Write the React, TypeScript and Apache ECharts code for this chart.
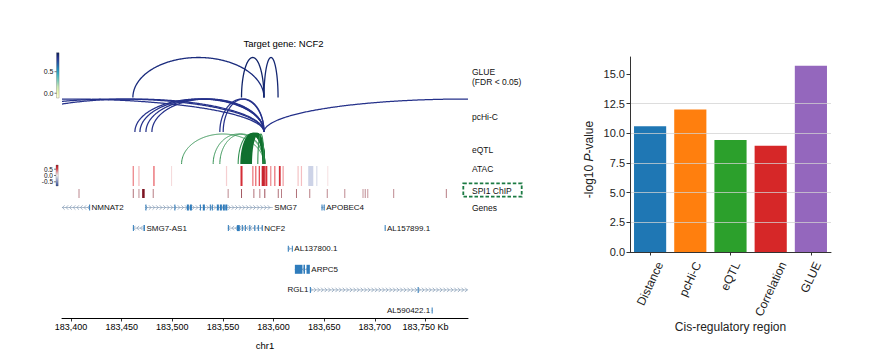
import React, { useEffect, useRef } from "react";
import * as echarts from "echarts";

// ---------------- data: genome tracks (positions in Kb, chr1) ----------------
const regionStart = 183391;
const regionEnd = 183792;
const genomeTicks = [183400, 183450, 183500, 183550, 183600, 183650, 183700, 183750];
const targetGene = "NCF2";

const glueStarts = [183461.0, 183568.3, 183590.5];
const glueEnds = [183590.5, 183590.5, 183604.4];
const glueScores = [0.86, 0.9, 0.88];

const pchicStarts = [183199.6, 183300.2, 183329.8, 183463.0, 183468.0, 183473.9, 183479.8, 183546.9, 183550.2, 183590.5];
const pchicEnds = [183590.5, 183590.5, 183590.5, 183590.5, 183590.5, 183590.5, 183590.5, 183590.5, 183590.5, 183993.0];

const eqtlStarts = [183509.1, 183540.3, 183546.9, 183565.0, 183568.3, 183569.8, 183571.3, 183572.8, 183574.3, 183575.8, 183577.5, 183584.4];
const eqtlEnds = [183590.5, 183590.5, 183590.5, 183590.5, 183590.5, 183590.5, 183590.5, 183590.5, 183590.5, 183590.5, 183590.5, 183590.5];
const eqtlWeights = [0.3, 0.3, 0.3, 0.4, 1, 1, 1, 1, 1, 1, 1, 0.4];

const atacPos = [183461.4, 183467.0, 183481.8, 183499.2, 183553.5, 183568.3, 183579.5, 183582.4, 183585.9, 183589.8, 183592.8, 183597.2, 183601.2, 183606.1, 183609.4, 183624.2, 183627.5, 183636.7, 183642.6, 183653.5];
const atacScore = [0.35, 0.22, 0.38, 0.1, 0.14, 0.62, 0.4, 0.45, 0.5, 0.68, 0.6, 0.35, 0.42, 0.62, 0.3, 0.18, 0.2, -0.18, -0.1, 0.07];
const atacLen = [1.3, 1.2, 1.5, 1.0, 1.2, 2.0, 1.2, 1.2, 1.3, 3.2, 2.0, 1.2, 1.2, 1.8, 1.2, 1.2, 1.2, 5.0, 1.5, 1.0];

const chipPos = [183407.8, 183461.4, 183467.0, 183471.4, 183481.1, 183555.1, 183568.3, 183580.5, 183586.4, 183591.3, 183604.6, 183607.8, 183622.6, 183635.7, 183653.0, 183670.3, 183688.3, 183690.5, 183693.0, 183718.6, 183770.6];
const chipSignal = [0.5, 0.6, 0.5, 1.0, 0.55, 0.5, 0.7, 0.6, 0.55, 0.75, 0.6, 0.55, 0.6, 0.55, 0.5, 0.5, 0.45, 0.5, 0.45, 0.5, 0.55];
const chipLen = [1, 1, 1, 2.5, 1, 1, 1, 1, 1, 1, 1, 1, 1, 1, 1, 1, 1, 1, 1, 1, 1];

const geneNames = ["NMNAT2", "SMG7", "APOBEC4", "SMG7-AS1", "NCF2", "AL157899.1", "AL137800.1", "ARPC5", "RGL1", "AL590422.1"];
const geneStarts = [183300.0, 183472.9, 183647.3, 183461.0, 183554.8, 183709.7, 183614.0, 183621.0, 183635.8, 183756.1];
const geneEnds = [183418.6, 183599.2, 183650.5, 183472.9, 183589.3, 183710.5, 183619.0, 183635.8, 183900.0, 183757.0];
const geneStrands = [-1, 1, -1, -1, -1, 1, 1, -1, 1, -1];
const geneRows = [0, 0, 0, 1, 1, 1, 2, 3, 4, 5];
const geneExons: number[][][] = [
  [[183417.8, 183418.6]],
  [[183473.4, 183474.4], [183502, 183503], [183514.3, 183516.3], [183517.3, 183519.3], [183527.2, 183528.2], [183530.1, 183532.1], [183537, 183538], [183539, 183540], [183543.9, 183545.9], [183546.9, 183548.9], [183549.9, 183551.8], [183552.3, 183554.3]],
  [[183647.3, 183648.3], [183649.5, 183650.5]],
  [[183461, 183461.8], [183471.5, 183472.9]],
  [[183554.8, 183555.8], [183563.7, 183566.6], [183568.6, 183569.6], [183571.6, 183572.6], [183576, 183577], [183580.9, 183581.9], [183584.4, 183585.4], [183588.3, 183589.3]],
  [[183709.7, 183710.5]],
  [[183614, 183615], [183618, 183619]],
  [[183621, 183628.5], [183629.5, 183631], [183632.5, 183635.8]],
  [[183635.8, 183636.8], [183742.3, 183743]],
  [[183756.1, 183757]],
];

const glueCbarTicks = [0, 0.5];
const glueCbarRange = [-0.11, 0.94];
const atacCbarTicks = [0.5, 0, -0.5];
const atacCbarRange = [-0.83, 0.83];

// ---------------- data: bar chart ----------------
const cisRegions = ["Distance", "pcHi-C", "eQTL", "Correlation", "GLUE"];
const negLog10P = [10.6, 12.0, 9.43, 8.96, 15.7];
const pTicks = [0, 2.5, 5, 7.5, 10, 12.5, 15];

// ---------------- styles / layout ----------------
const FONT = '"Liberation Sans", Arial, Helvetica, sans-serif';
const BAR_COLORS = ["#1f77b4", "#ff7f0e", "#2ca02c", "#d62728", "#9467bd"];
const LG = { left: 62, top: 40, width: 406, height: 278 };
const BG = { left: 630, top: 57, width: 201, height: 195, max: 16.43 };
const TRACK = {
  glue: { base: 97.5, h: 40 },
  pchic: { base: 132, h: 33 },
  eqtl: { base: 164, h: 30 },
  atac: { top: 166, bottom: 186 },
  chip: { top: 189, bottom: 198 },
  genes: { row0: 207.5, step: 20.6 },
};
const GENE_LINE = "#7d95b0";
const EXON = "#2f7cbc";
const EXON_H: Record<string, number> = { ARPC5: 9 };
const yv = (px: number) => px - LG.top;

const YLGNBU = ["#ffffd9", "#edf8b1", "#c7e9b4", "#7fcdbb", "#41b6c4", "#1d91c0", "#225ea8", "#253494", "#081d58"];
const ATAC_STOPS: [number, string][] = [
  [-0.83, "#2c4b9a"], [-0.4, "#9aa6d4"], [0, "#f7f7f7"], [0.25, "#f3b0b3"], [0.55, "#e2363e"], [0.83, "#a8121e"],
];

function hex(c: string) {
  return [parseInt(c.slice(1, 3), 16), parseInt(c.slice(3, 5), 16), parseInt(c.slice(5, 7), 16)];
}
function mix(a: string, b: string, t: number) {
  const A = hex(a), B = hex(b);
  const r = A.map((v, i) => Math.round(v + (B[i] - v) * t));
  return "rgb(" + r.join(",") + ")";
}
function stopsColor(stops: [number, string][], v: number) {
  if (v <= stops[0][0]) return stops[0][1];
  for (let i = 1; i < stops.length; i++) {
    if (v <= stops[i][0]) {
      const t = (v - stops[i - 1][0]) / (stops[i][0] - stops[i - 1][0]);
      return mix(stops[i - 1][1], stops[i][1], t);
    }
  }
  return stops[stops.length - 1][1];
}
function glueColor(v: number) {
  const [mn, mx] = glueCbarRange;
  const stops: [number, string][] = YLGNBU.map((c, i) => [mn + (i / (YLGNBU.length - 1)) * (mx - mn), c]);
  return stopsColor(stops, v);
}

let measureCtx: CanvasRenderingContext2D | null = null;
function textWidth(t: string, size: number) {
  if (!measureCtx) measureCtx = document.createElement("canvas").getContext("2d");
  if (!measureCtx) return t.length * size * 0.55;
  measureCtx.font = size + 'px "Liberation Sans"';
  return measureCtx.measureText(t).width;
}

// half-ellipse points between two pixel x positions, clipped to [xmin, xmax]
function arcPoints(x0: number, x1: number, y0: number, h: number, xmin: number, xmax: number) {
  const cx = (x0 + x1) / 2;
  const a = Math.max(0.01, (x1 - x0) / 2);
  const yAt = (x: number) => y0 - h * Math.sqrt(Math.max(0, 1 - ((x - cx) / a) * ((x - cx) / a)));
  const pts: number[][] = [];
  const left = Math.max(x0, xmin);
  const right = Math.min(x1, xmax);
  if (right <= left) return pts;
  // angle sampling for the legs, x sampling for clipped parts
  const N = 200;
  for (let i = 0; i <= N; i++) {
    const x = left + ((right - left) * i) / N;
    pts.push([x, yAt(x)]);
  }
  // refine the steep legs near unclipped ends
  if (x0 >= xmin) {
    const leg: number[][] = [];
    for (let j = 0; j < 12; j++) {
      const t = Math.PI - (j / 12) * 0.6;
      const x = cx + a * Math.cos(t);
      if (x < pts[1][0]) leg.push([x, y0 - h * Math.sin(t)]);
    }
    pts.splice(0, 1, ...leg);
  }
  if (x1 <= xmax) {
    const leg: number[][] = [];
    for (let j = 11; j >= 0; j--) {
      const t = (j / 12) * 0.6;
      const x = cx + a * Math.cos(t);
      if (x > pts[pts.length - 2][0]) leg.push([x, y0 - h * Math.sin(t)]);
    }
    pts.splice(pts.length - 1, 1, ...leg);
  }
  return pts;
}

function makeTrackRender(starts: number[], ends: number[], base: number, h: number, styleFor: (i: number) => { stroke: string; lineWidth: number }) {
  return (params: any, api: any) => {
    const c0 = api.coord([regionStart, yv(base)]);
    const c1 = api.coord([regionEnd, yv(base)]);
    const k = (c1[0] - c0[0]) / (regionEnd - regionStart);
    const y0 = c0[1];
    const xmin = c0[0], xmax = c1[0];
    const children: any[] = [];
    starts.forEach((s, idx) => {
      const e = ends[idx];
      const x0 = c0[0] + (Math.min(s, e) - regionStart) * k;
      const x1 = c0[0] + (Math.max(s, e) - regionStart) * k;
      const pts = arcPoints(x0, x1, y0, h, xmin, xmax);
      if (pts.length < 2) return;
      const st = styleFor(idx);
      children.push({
        type: "polyline",
        z2: 10,
        shape: { points: pts },
        style: { stroke: st.stroke, lineWidth: st.lineWidth, fill: null },
      });
    });
    return { type: "group", children };
  };
}

function buildOption(): any {
  const lastTick = genomeTicks[genomeTicks.length - 1];
  const glueTop = 52.7, glueH = 45.3, glueX = 56.5, glueW = 2.6;
  const atacTop = 165, atacH = 21, atacX = 56, atacW = 2.2;
  const cbY = (v: number, range: number[], top: number, hgt: number) =>
    top + ((range[1] - v) / (range[1] - range[0])) * hgt;

  const graphics: any[] = [];
  graphics.push({
    type: "text", x: 283.5, y: 43,
    style: { text: "Target gene: " + targetGene, fontSize: 9.5, fontFamily: FONT, fill: "#000", align: "center", verticalAlign: "middle" },
  });
  const trackLabels: [string, number][] = [
    ["GLUE", 71.5], ["(FDR < 0.05)", 81.5], ["pcHi-C", 116.5], ["eQTL", 149.5], ["ATAC", 169], ["SPI1 ChIP", 190.5], ["Genes", 207.5],
  ];
  trackLabels.forEach(([t, y]) =>
    graphics.push({
      type: "text", x: 472, y,
      style: { text: t, fontSize: 8.5, fontFamily: FONT, fill: "#111", align: "left", verticalAlign: "middle" },
    })
  );
  graphics.push({
    type: "rect", shape: { x: 463.3, y: 183.3, width: 58.4, height: 13.4 },
    style: { fill: null, stroke: "#1b7a43", lineWidth: 1.8, lineDash: [3.5, 2] },
  });
  graphics.push({
    type: "rect", shape: { x: glueX, y: glueTop, width: glueW, height: glueH },
    style: {
      fill: new echarts.graphic.LinearGradient(0, 0, 0, 1, YLGNBU.slice().reverse().map((c, i) => ({ offset: i / (YLGNBU.length - 1), color: c }))),
      stroke: "#555", lineWidth: 0.3,
    },
  });
  glueCbarTicks.forEach((v) => {
    const y = cbY(v, glueCbarRange, glueTop, glueH);
    graphics.push({ type: "line", shape: { x1: glueX - 2, y1: y, x2: glueX, y2: y }, style: { stroke: "#222", lineWidth: 0.6 } });
    graphics.push({ type: "text", x: glueX - 3, y, style: { text: v.toFixed(1), fontSize: 7, fontFamily: FONT, fill: "#111", align: "right", verticalAlign: "middle" } });
  });
  const atacGrad = ATAC_STOPS.slice().reverse().map(([v, c]) => ({ offset: (atacCbarRange[1] - v) / (atacCbarRange[1] - atacCbarRange[0]), color: c }));
  graphics.push({
    type: "rect", shape: { x: atacX, y: atacTop, width: atacW, height: atacH },
    style: { fill: new echarts.graphic.LinearGradient(0, 0, 0, 1, atacGrad), stroke: "#555", lineWidth: 0.3 },
  });
  atacCbarTicks.forEach((v) => {
    const y = cbY(v, atacCbarRange, atacTop, atacH);
    graphics.push({ type: "line", shape: { x1: atacX - 2, y1: y, x2: atacX, y2: y }, style: { stroke: "#222", lineWidth: 0.6 } });
    graphics.push({ type: "text", x: atacX - 3, y, style: { text: v.toFixed(1), fontSize: 6.5, fontFamily: FONT, fill: "#111", align: "right", verticalAlign: "middle" } });
  });

  const trackSeries = (name: string, starts: number[], ends: number[], base: number, h: number, styleFor: (i: number) => { stroke: string; lineWidth: number }) => ({
    type: "custom", name, xAxisIndex: 0, yAxisIndex: 0, silent: true, clip: false, z: 6,
    data: [[regionStart, 0]],
    renderItem: makeTrackRender(starts, ends, base, h, styleFor),
  });

  return {
    animation: false,
    backgroundColor: "#fff",
    textStyle: { fontFamily: FONT },
    grid: [
      { left: LG.left, top: LG.top, width: LG.width, height: LG.height, containLabel: false },
      { left: BG.left, top: BG.top, width: BG.width, height: BG.height, containLabel: false },
    ],
    xAxis: [
      {
        gridIndex: 0, type: "value", min: regionStart, max: regionEnd,
        axisLine: { show: true, onZero: false, lineStyle: { color: "#000", width: 1 } },
        axisTick: { show: true, customValues: genomeTicks, length: 3.5, lineStyle: { color: "#000", width: 0.8 } },
        axisLabel: {
          customValues: genomeTicks, fontSize: 9, color: "#000", margin: 4, fontFamily: FONT,
          formatter: (v: number) => Number(v).toLocaleString("en-US") + (v === lastTick ? " Kb" : ""),
        },
        splitLine: { show: false },
        name: "chr1", nameLocation: "middle", nameGap: 22,
        nameTextStyle: { fontSize: 9.5, color: "#000", fontFamily: FONT },
      },
      {
        gridIndex: 1, type: "category", data: cisRegions,
        axisLine: { show: true, lineStyle: { color: "#333", width: 1 } },
        axisTick: { show: true, alignWithLabel: true, length: 3.5, lineStyle: { color: "#333" } },
        axisLabel: { show: false },
        splitLine: { show: false },
        name: "Cis-regulatory region", nameLocation: "middle", nameGap: 69,
        nameTextStyle: { fontSize: 12, color: "#222", fontFamily: FONT },
      },
    ],
    yAxis: [
      { gridIndex: 0, type: "value", min: 0, max: LG.height, inverse: true, show: false },
      {
        gridIndex: 1, type: "value", min: 0, max: BG.max, interval: 2.5, z: 3,
        axisLine: { show: true, lineStyle: { color: "#333", width: 1 } },
        axisTick: { show: true, customValues: pTicks, length: 3.5, lineStyle: { color: "#333" } },
        axisLabel: {
          customValues: pTicks, fontSize: 11, color: "#222", margin: 5, fontFamily: FONT,
          formatter: (v: number) => Number(v).toFixed(1),
        },
        splitLine: { show: true, showMaxLine: false, showMinLine: false, lineStyle: { color: "rgba(210,210,210,0.75)", width: 1 } },
        name: "-log10 {i|P}-value", nameLocation: "middle", nameGap: 35,
        nameTextStyle: {
          fontSize: 12, color: "#222", fontFamily: FONT, padding: [0, 10, 0, 0],
          rich: { i: { fontStyle: "italic", fontSize: 12, color: "#222", fontFamily: FONT } },
        },
      },
    ],
    series: [
      trackSeries("GLUE", glueStarts, glueEnds, TRACK.glue.base, TRACK.glue.h, (i) => ({ stroke: glueColor(glueScores[i]), lineWidth: 1.3 })),
      trackSeries("pcHi-C", pchicStarts, pchicEnds, TRACK.pchic.base, TRACK.pchic.h, () => ({ stroke: "#25318a", lineWidth: 1.25 })),
      trackSeries("eQTL", eqtlStarts, eqtlEnds, TRACK.eqtl.base, TRACK.eqtl.h, (i) => ({
        stroke: eqtlWeights[i] >= 1 ? "#11702f" : "#2f8f4e",
        lineWidth: eqtlWeights[i] >= 1 ? 2.4 : 0.6 + eqtlWeights[i] * 1.2,
      })),
      {
        type: "custom", name: "ATAC", xAxisIndex: 0, yAxisIndex: 0, silent: true,
        data: atacPos.map((p, i) => [p, atacScore[i], atacLen[i]]),
        renderItem: (params: any, api: any) => {
          const pos = api.value(0), sc = api.value(1), len = api.value(2);
          const a = api.coord([pos - len / 2, yv(TRACK.atac.top)]);
          const b = api.coord([pos + len / 2, yv(TRACK.atac.bottom)]);
          const w = Math.max(1.1, b[0] - a[0]);
          return {
            type: "rect",
            shape: { x: (a[0] + b[0]) / 2 - w / 2, y: a[1], width: w, height: b[1] - a[1] },
            style: { fill: stopsColor(ATAC_STOPS, sc) },
          };
        },
      },
      {
        type: "custom", name: "SPI1 ChIP", xAxisIndex: 0, yAxisIndex: 0, silent: true,
        data: chipPos.map((p, i) => [p, chipSignal[i], chipLen[i]]),
        renderItem: (params: any, api: any) => {
          const pos = api.value(0), sg = api.value(1), len = api.value(2);
          const a = api.coord([pos - len / 2, yv(TRACK.chip.top)]);
          const b = api.coord([pos + len / 2, yv(TRACK.chip.bottom)]);
          const w = Math.max(0.9, b[0] - a[0]);
          return {
            type: "rect",
            shape: { x: (a[0] + b[0]) / 2 - w / 2, y: a[1], width: w, height: b[1] - a[1] },
            style: { fill: mix("#ffffff", "#7d1422", sg) },
          };
        },
      },
      {
        type: "custom", name: "Genes", xAxisIndex: 0, yAxisIndex: 0, silent: true,
        data: geneNames.map((_, i) => [geneStarts[i], geneEnds[i]]),
        renderItem: (params: any, api: any) => {
          const i = params.dataIndex;
          const cs = params.coordSys;
          const xmin = cs.x, xmax = cs.x + cs.width;
          const y = api.coord([regionStart, yv(TRACK.genes.row0 + geneRows[i] * TRACK.genes.step)])[1];
          const sx = api.coord([api.value(0), 0])[0];
          const ex = api.coord([api.value(1), 0])[0];
          const vs = Math.max(sx, xmin), ve = Math.min(ex, xmax);
          const children: any[] = [];
          children.push({ type: "line", shape: { x1: vs, y1: y, x2: ve, y2: y }, style: { stroke: GENE_LINE, lineWidth: 0.6 } });
          const dir = geneStrands[i];
          for (let x = vs + 1.5; x <= ve - 1; x += 3.6) {
            children.push({
              type: "polyline",
              shape: { points: [[x - dir * 1.1, y - 2.2], [x + dir * 1.1, y], [x - dir * 1.1, y + 2.2]] },
              style: { stroke: GENE_LINE, lineWidth: 0.7, fill: null },
            });
          }
          const eh = EXON_H[geneNames[i]] || 6;
          geneExons[i].forEach(([a, b]) => {
            const xa = Math.max(api.coord([a, 0])[0], xmin);
            const xb = Math.min(api.coord([b, 0])[0], xmax);
            if (xb <= xmin || xa >= xmax) return;
            children.push({ type: "rect", shape: { x: xa, y: y - eh / 2, width: Math.max(1, xb - xa), height: eh }, style: { fill: EXON } });
          });
          const name = geneNames[i];
          const tw = textWidth(name, 8);
          const right = ex + 1.5 + tw <= xmax;
          children.push({
            type: "text", x: right ? ex + 1.5 : sx - 1.5, y,
            style: { text: name, fontSize: 8, fontFamily: FONT, fill: "#111", align: right ? "left" : "right", verticalAlign: "middle" },
          });
          return { type: "group", children };
        },
      },
      {
        type: "bar", name: "-log10 P", xAxisIndex: 1, yAxisIndex: 1, barWidth: "80%", silent: true,
        data: negLog10P.map((v, i) => ({ value: v, itemStyle: { color: BAR_COLORS[i] } })),
      },
      {
        type: "custom", name: "regionLabels", xAxisIndex: 1, yAxisIndex: 1, silent: true, clip: false, z: 5,
        data: cisRegions.map((_, i) => [i, 0]),
        renderItem: (params: any, api: any) => {
          const i = params.dataIndex;
          const p = api.coord([api.value(0), 0]);
          const text = cisRegions[i];
          const fs = 12;
          const L = textWidth(text, fs);
          const h = fs;
          const th = (65 * Math.PI) / 180;
          const c = Math.cos(th), s = Math.sin(th);
          const corners = [[-L, -h / 2], [0, -h / 2], [0, h / 2], [-L, h / 2]].map(([dx, dy]) => [dx * c + dy * s, -dx * s + dy * c]);
          const xs = corners.map((q) => q[0]);
          const ys = corners.map((q) => q[1]);
          const ax = p[0] - (Math.min(...xs) + Math.max(...xs)) / 2;
          const ay = p[1] + 8 - Math.min(...ys);
          return {
            type: "text", x: ax, y: ay, rotation: th,
            style: { text, fontSize: fs, fontFamily: FONT, fill: "#222", align: "right", verticalAlign: "middle" },
          };
        },
      },
    ],
    graphic: graphics,
  };
}

export default function App() {
  const ref = useRef<HTMLDivElement>(null);
  useEffect(() => {
    if (!ref.current) return;
    const chart = echarts.init(ref.current, undefined, { renderer: "svg" });
    chart.setOption(buildOption());
    return () => chart.dispose();
  }, []);
  return (
    <div
      ref={ref}
      style={{ position: "absolute", left: 0, top: 0, width: 882, height: 358, background: "#fff" }}
    />
  );
}
